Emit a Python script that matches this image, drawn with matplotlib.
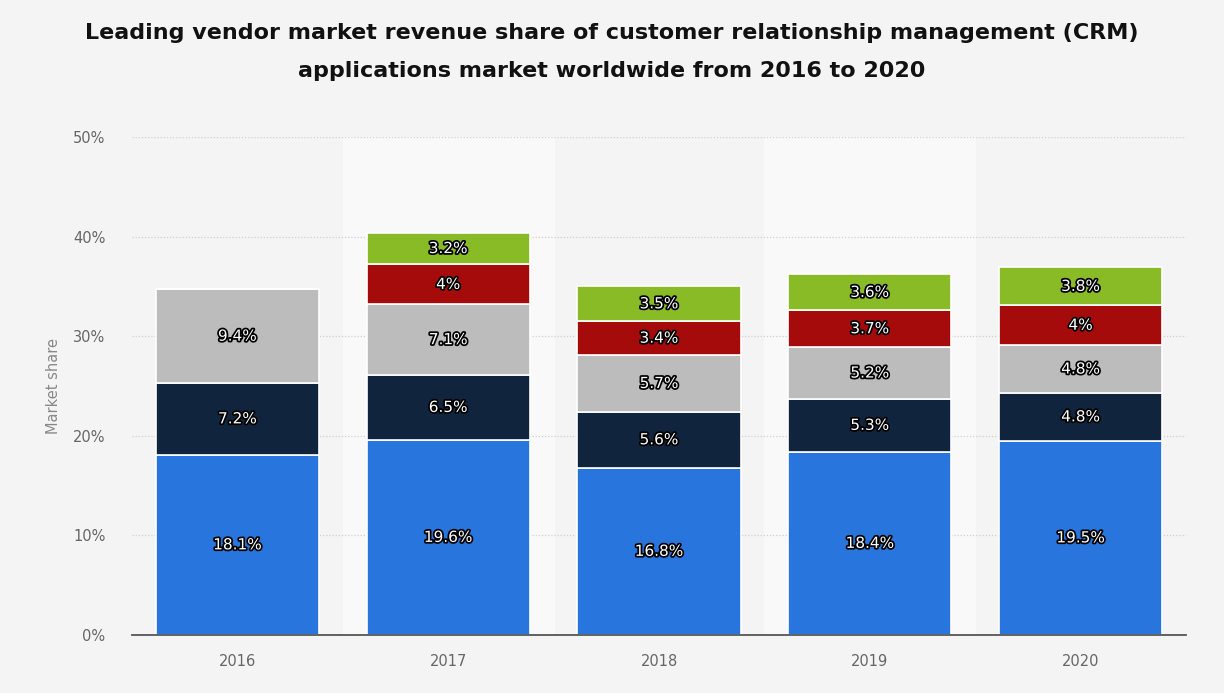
import matplotlib.pyplot as plt
import matplotlib.patheffects as pe
import numpy as np

years = ['2016', '2017', '2018', '2019', '2020']
blue = [18.1, 19.6, 16.8, 18.4, 19.5]
navy = [7.2, 6.5, 5.6, 5.3, 4.8]
gray = [9.4, 7.1, 5.7, 5.2, 4.8]
red = [None, 4, 3.4, 3.7, 4]
green = [None, 3.2, 3.5, 3.6, 3.8]

series = [blue, navy, gray, red, green]
colors = ['#2875dd', '#10253d', '#bcbcbc', '#a50b0b', '#89bb26']

bg = '#f4f4f4'
fig = plt.figure(figsize=(12.24, 6.93), dpi=100, facecolor=bg)
ax = fig.add_axes([132 / 1224, 1 - 635 / 693, 1054 / 1224, 498 / 693])
ax.set_facecolor(bg)

x = np.arange(len(years))

# alternating column bands
for i in [1, 3]:
    ax.axvspan(i - 0.5, i + 0.5, color='#f9f9f9', zorder=0)

bottom = np.zeros(len(years))
for vals, col in zip(series, colors):
    v = np.array([0 if a is None else a for a in vals], dtype=float)
    ax.bar(x, v, 0.775, bottom=bottom, color=col, edgecolor='white', linewidth=1.2, zorder=3)
    for i, a in enumerate(vals):
        if a is None:
            continue
        ax.text(x[i], bottom[i] + a / 2, f'{a:g}%', ha='center', va='center',
                color='white', fontsize=11, zorder=5,
                path_effects=[pe.withStroke(linewidth=2.5, foreground='black')])
    bottom += v

ax.set_xlim(-0.5, 4.5)
ax.set_ylim(0, 50)
ax.set_yticks(range(0, 51, 10))
ax.set_yticklabels([f'{t}%' for t in range(0, 51, 10)])
ax.set_xticks(x)
ax.set_xticklabels(years)
ax.tick_params(axis='both', length=0, colors='#666666', labelsize=10.5)
ax.tick_params(axis='y', pad=19)
ax.tick_params(axis='x', pad=14)
ax.grid(axis='y', linestyle=(0, (1, 1.5)), color='#cfcfcf', linewidth=0.9, zorder=1)
ax.set_axisbelow(True)
for s in ['top', 'right', 'left']:
    ax.spines[s].set_visible(False)
ax.spines['bottom'].set_color('#555555')
ax.spines['bottom'].set_linewidth(1.3)
ax.spines['bottom'].set_zorder(6)

ax.set_ylabel('Market share', color='#888888', fontsize=10.5, labelpad=9)

fig.text(0.5, 1 - 52 / 693,
         'Leading vendor market revenue share of customer relationship management (CRM)\n'
         'applications market worldwide from 2016 to 2020',
         ha='center', va='center', fontsize=16, fontweight='bold', color='#111111',
         linespacing=2.1)

fig.savefig('out.png', dpi=100, facecolor=bg)
